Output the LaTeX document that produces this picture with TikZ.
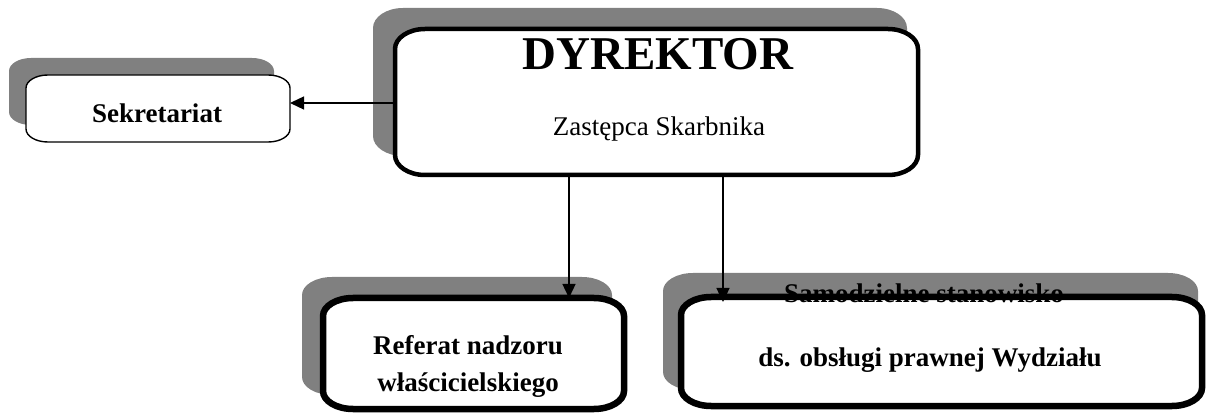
\documentclass[tikz,border=0pt]{standalone}
\usepackage{fontspec}
\setmainfont{Liberation Serif}
\usetikzlibrary{arrows.meta}
\newcommand\ebox[7]{% #1 style, #2 x1, #3 y1, #4 x2, #5 y2, #6 rx, #7 ry
  \path[#1] (#2+#6,#3) -- (#4-#6,#3)
    arc[start angle=270,end angle=360,x radius=#6,y radius=#7] -- (#4,#5-#7)
    arc[start angle=0,end angle=90,x radius=#6,y radius=#7] -- (#2+#6,#5)
    arc[start angle=90,end angle=180,x radius=#6,y radius=#7] -- (#2,#3+#7)
    arc[start angle=180,end angle=270,x radius=#6,y radius=#7] -- cycle;}
\tikzset{
  shadowfill/.style={fill={rgb,255:red,128;green,128;blue,128}},
  thinbox/.style={draw=black,fill=white,line width=1.4pt},
  midbox/.style={draw=black,fill=white,line width=4.5pt},
  thickbox/.style={draw=black,fill=white,line width=6.5pt},
  anchorbox/.style={draw=none,inner sep=0pt,outer sep=0pt},
  arr/.style={line width=1.3pt,-{Triangle[length=14pt,width=13pt]}},
  boldtxt/.style={font=\bfseries\fontsize{27}{37}\selectfont,align=center,inner sep=0pt},
  regtxt/.style={font=\fontsize{27}{32}\selectfont,align=center,inner sep=0pt},
  bigtxt/.style={font=\bfseries\fontsize{47}{50}\selectfont,inner sep=0pt}
}
\begin{document}
\begin{tikzpicture}[x=1pt,y=1pt]
\useasboundingbox (0,0) rectangle (1208,418);
% shadows
\ebox{shadowfill}{9}{293}{274}{360}{22}{13}
\ebox{shadowfill}{373}{262}{907}{410}{30}{20}
\ebox{shadowfill}{302}{23}{612}{141}{30}{18}
\ebox{shadowfill}{663}{28}{1198}{145}{30}{18}
% boxes
\ebox{thinbox}{26}{276}{290}{343}{22}{13}
\ebox{midbox}{395}{243}{918}{389}{30}{20}
\ebox{thickbox}{323}{9}{624}{120}{30}{18}
\ebox{thickbox}{681}{12}{1202}{121}{30}{18}
% anchor nodes
\node[anchorbox,minimum width=264pt,minimum height=67pt] (sek) at (158,309.5) {};
\node[anchorbox,minimum width=527pt,minimum height=150pt] (dir) at (656.5,316) {};
\node[anchorbox,minimum width=307pt,minimum height=117pt] (ref) at (473.5,64.5) {};
\node[anchorbox,minimum width=525pt,minimum height=113pt] (sam) at (940.5,66.5) {};
% texts
\node[bigtxt] (t1) at (658,364) {DYREKTOR};
\node[regtxt] (t2) at (659,289) {Zastępca Skarbnika};
\node[boldtxt] (t3) at (157,305) {Sekretariat};
\node[boldtxt] (t4) at (468,51.5) {Referat nadzoru\\właścicielskiego};
\node[boldtxt] (t5) at (924,125) {Samodzielne stanowisko};
\node[boldtxt] (t6) at (930,58) {ds. obsługi prawnej Wydziału};
% connectors
\coordinate (d0) at (393,315);
\coordinate (d1) at (569,241);
\coordinate (d2) at (723,241);
\draw[arr] (d0) -- (d0 -| sek.east);
\draw[arr,shorten >=-3pt] (d1) -- (d1 |- ref.north);
\draw[arr,shorten >=-7pt] (d2) -- (d2 |- sam.north);
\end{tikzpicture}
\end{document}
